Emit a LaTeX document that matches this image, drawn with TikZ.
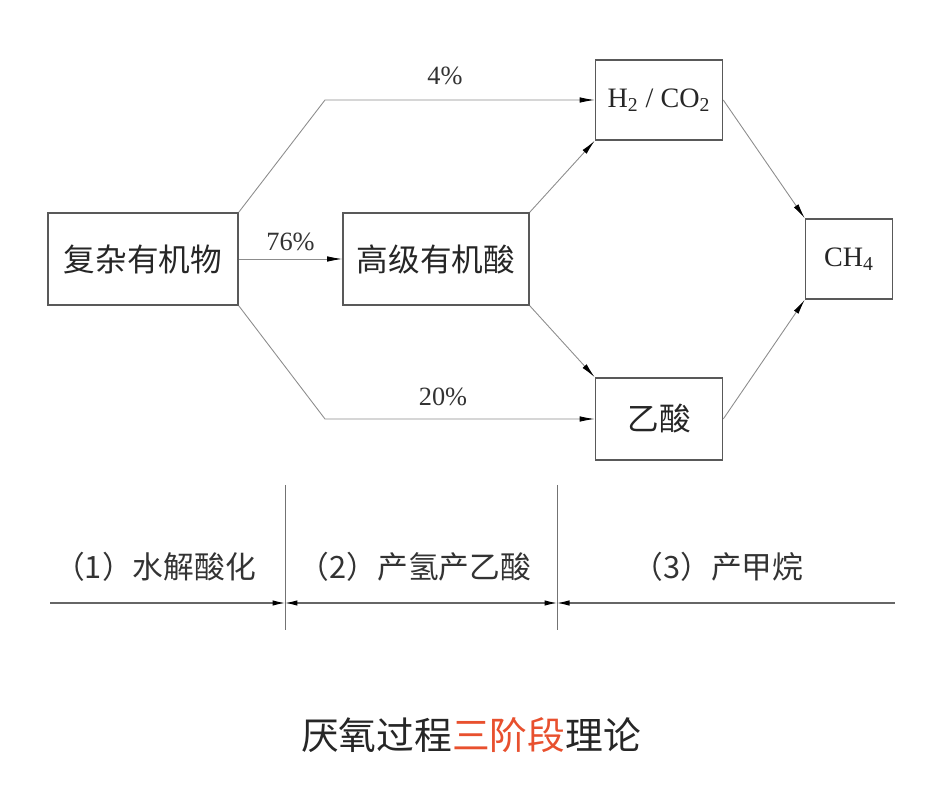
\documentclass[tikz,border=0pt]{standalone}
\usepackage{fontspec}
\setmainfont{Liberation Serif}
\newfontfamily\cjk{Noto Sans CJK SC}
\usetikzlibrary{arrows.meta,positioning}
\usepackage{xcolor}
\definecolor{rojo}{HTML}{E8502E}

\begin{document}
\begin{tikzpicture}[
  x=0.02cm, y=-0.02cm,
  caja/.style={rectangle, draw=black!65, line width=0.9pt, align=center, inner sep=0pt, font=\cjk\fontsize{18}{21}\selectfont, text=black!85},
  flecha/.style={-{Latex[length=3mm,width=1.1mm,black]}, draw=black!45, line width=0.5pt},
  etiqueta/.style={font=\fontsize{15}{17}\selectfont, text=black!80},
  etapa/.style={font=\cjk\fontsize{17.5}{20}\selectfont, text=black!80},
  cota/.style={draw=black!60, line width=0.6pt},
  punta/.tip={Latex[length=2.5mm,width=1.1mm,black]}
]
\useasboundingbox (0,0) rectangle (944,810);

\node[caja, minimum width=3.8cm, minimum height=1.84cm] (org) at (143,259) {复杂有机物};
\node[caja, minimum width=3.72cm, minimum height=1.84cm] (acid) at (436,259) {高级有机酸};
\node[caja, minimum width=2.54cm, minimum height=1.6cm, font=\fontsize{16}{18}\selectfont] (h2) at (659,100) {H\textsubscript{2} / CO\textsubscript{2}};
\node[caja, minimum width=2.54cm, minimum height=1.64cm] (ace) at (659,419) {乙酸};
\node[caja, minimum width=1.74cm, minimum height=1.6cm, font=\fontsize{16}{18}\selectfont] (ch4) at (849,259) {CH\textsubscript{4}};

\draw[flecha] (org.north east) -- (325,100) -- (h2.west);
\node[etiqueta] (p4) at (445,76) {4\%};
\draw[flecha] (org.east) -- node[etiqueta, above=1pt] (p76) {76\%} (acid.west);
\draw[flecha] (org.south east) -- (325,419) -- (ace.west);
\node[etiqueta] (p20) at (443,397) {20\%};
\draw[flecha] (acid.north east) -- (h2.south west);
\draw[flecha] (acid.south east) -- (ace.north west);
\draw[flecha] (h2.east) -- (ch4.north west);
\draw[flecha] (ace.east) -- (ch4.south west);

% etapas
\coordinate (d0) at (50,603);
\coordinate (d1) at (285,603);
\coordinate (d2) at (557,603);
\coordinate (d3) at (895,603);
\coordinate (s1) at (285,485);
\coordinate (e1) at (285,630);
\coordinate (s2) at (557,485);
\coordinate (e2) at (557,630);
\draw[draw=black!55, line width=0.5pt] (s1) -- (e1);
\draw[draw=black!55, line width=0.5pt] (s2) -- (e2);
\draw[cota, -{punta}] (d0) -- (d1);
\draw[cota, {punta}-{punta}] (d1) -- (d2);
\draw[cota, {punta}-] (d2) -- (d3);
\node[etapa] (e1t) at (155,567) {（1）水解酸化};
\node[etapa] (e2t) at (415,567) {（2）产氢产乙酸};
\node[etapa] (e3t) at (718,567) {（3）产甲烷};

\node[font=\cjk\fontsize{21.5}{24}\selectfont, text=black!85] (titulo) at (471,735) {厌氧过程\textcolor{rojo}{三阶段}理论};
\end{tikzpicture}
\end{document}
